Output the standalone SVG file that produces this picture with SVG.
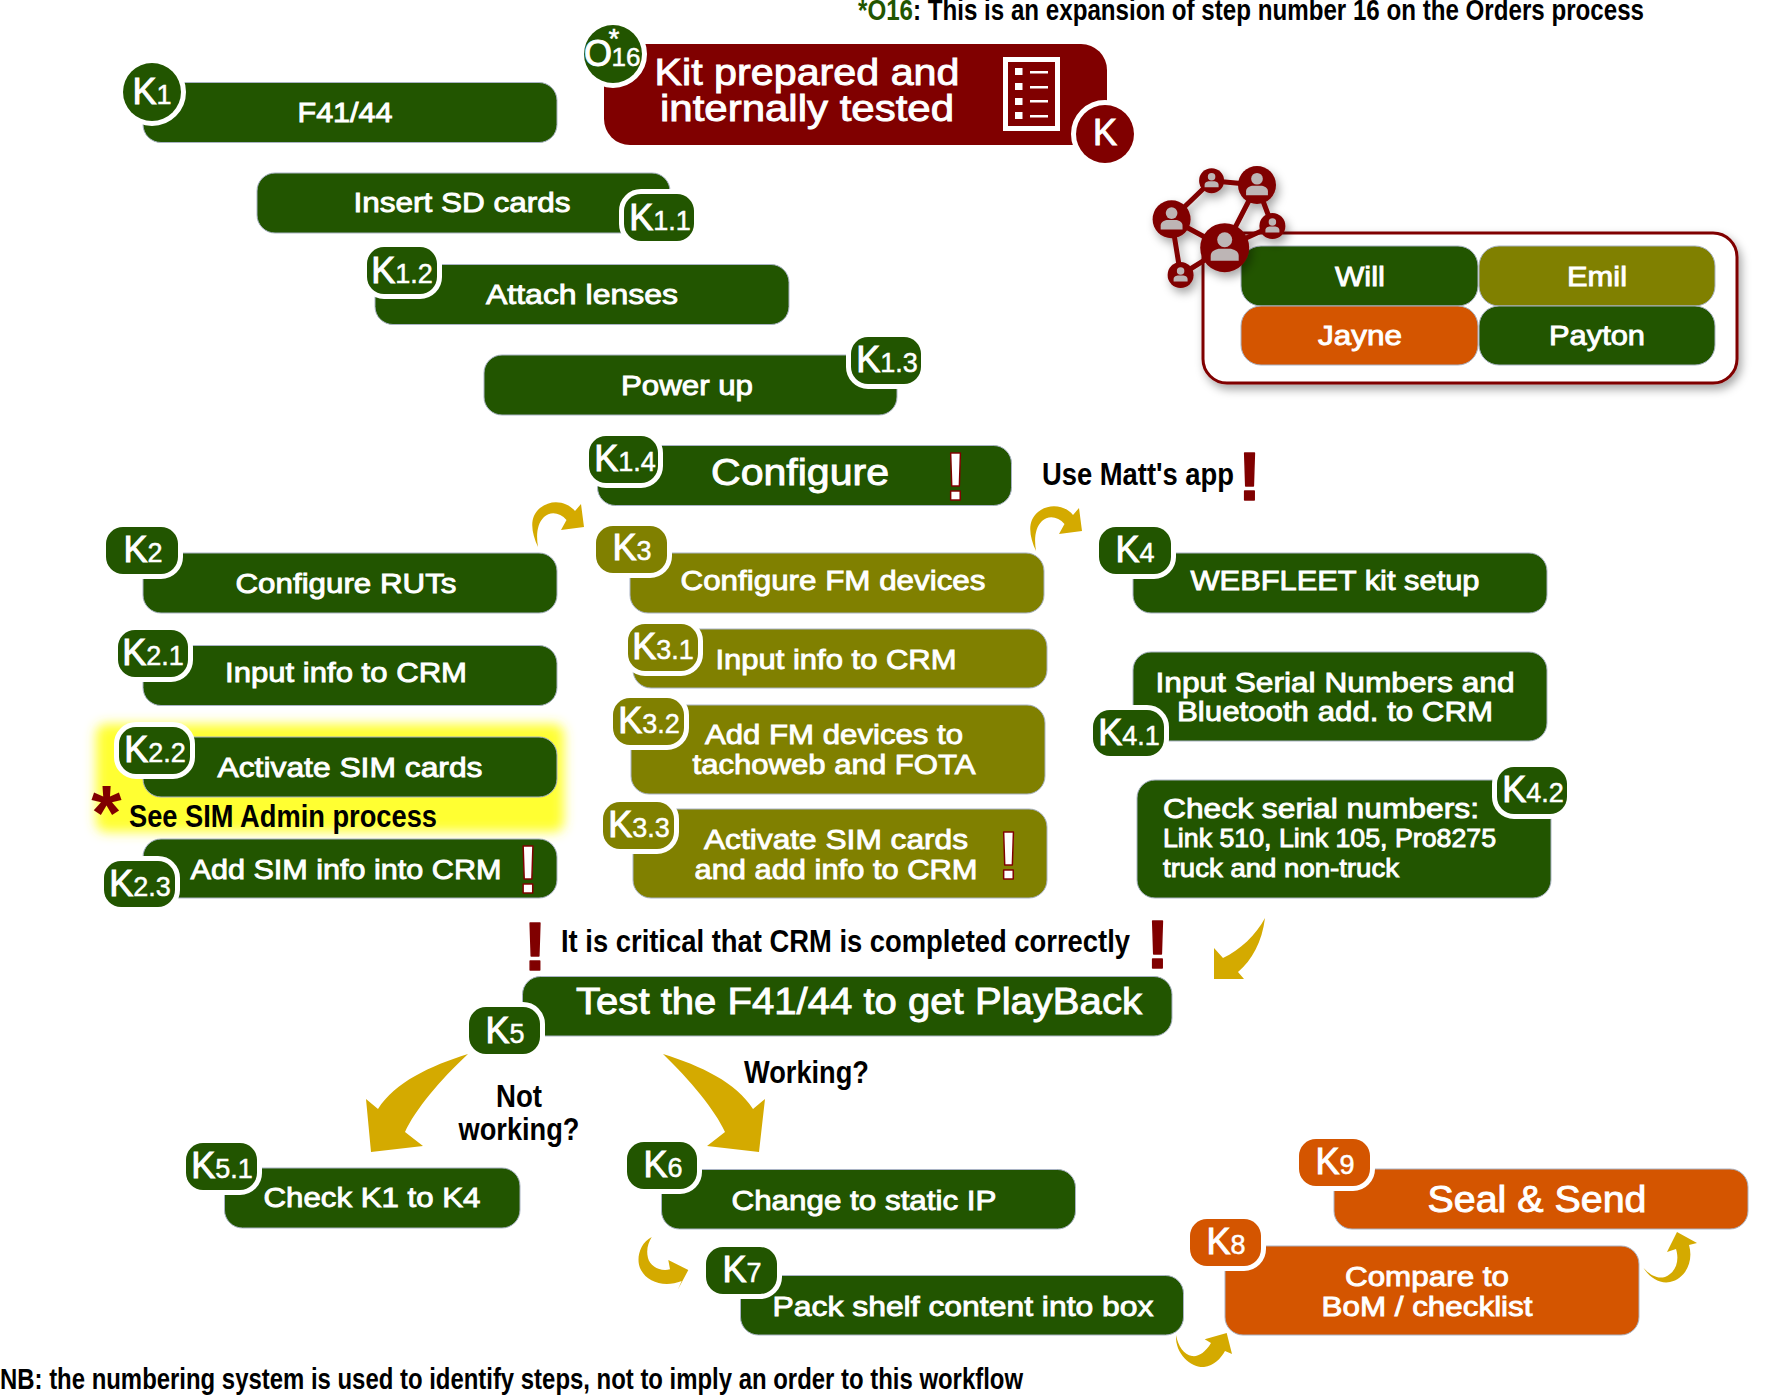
<svg xmlns="http://www.w3.org/2000/svg" width="1789" height="1396" viewBox="0 0 1789 1396">
<style>
text{font-family:"Liberation Sans",Arial,sans-serif}
.g{fill:#225500}.o{fill:#808000}.r{fill:#d45500}.m{fill:#800000}
.box{stroke:#a9b3c4;stroke-width:1}
.bd{stroke:#fff;stroke-width:10;paint-order:stroke}
.t{fill:#fff;stroke:#fff;stroke-width:.9;font-size:28px;text-anchor:middle;transform:translateY(-1px)}
.l{text-anchor:start}
.b{font-size:36px}
.sm{font-size:25px}
.k{fill:#fff;stroke:#fff;stroke-width:1;font-size:36px;text-anchor:middle;transform:translateY(-1px)}
.k tspan{font-size:27px;stroke-width:.5}
.n{fill:#000;font-weight:bold;font-size:32px;transform:translateY(-1px)}
.c{text-anchor:middle}
.arrow{fill:#d4aa00}
.bang{font-weight:bold;font-size:68px;text-anchor:middle;fill:#fff;stroke:#800000;stroke-width:1.5;stroke-linejoin:round}
.bang.dark{fill:#800000}
.edge{stroke:#800000;stroke-width:5}
.pp{fill:#bdb5b5}
</style>
<defs>
<filter id="blur" x="-10%" y="-30%" width="120%" height="160%"><feGaussianBlur stdDeviation="6"/></filter>
<filter id="shadow" x="-10%" y="-10%" width="120%" height="125%"><feDropShadow dx="3" dy="5" stdDeviation="5" flood-color="#000" flood-opacity=".35"/></filter>
<g id="person"><circle cx="0" cy="-8" r="7.500"/><path d="M-14,13V8C-14,3-8,1-5,1H5C8,1 14,3 14,8V13Z"/></g>
</defs>
<rect width="1789" height="1396" fill="#fff"/>

<rect id="highlight" x="96" y="724" width="468" height="108" rx="10" fill="#ffff33" filter="url(#blur)"/>

<g id="connectors">
<path class="arrow" d="M538,547C531,532 529,517 540,508C552,498 568,502 575,511L581,504L584,527L561,530L566.500,520C560,512 550,511 544,517C537,524 536,535 538,547Z"/>
<path class="arrow" d="M1036,551C1029,536 1027,521 1038,512C1050,502 1066,506 1073,515L1079,508L1082,531L1059,534L1064.500,524C1058,516 1048,515 1042,521C1035,528 1034,539 1036,551Z"/>
<path class="arrow" d="M1265,918C1262,942 1252,960 1238,972L1244,979H1214V948L1223,958C1240,950 1256,935 1265,918Z"/>
<path class="arrow" d="M468,1054C430,1066 395,1082 378,1109L366,1099L371,1152L423,1146L405,1132C415,1110 440,1080 468,1054Z"/>
<path class="arrow" d="M663,1054C701,1066 736,1082 753,1109L765,1099L759,1152L707,1146L725,1132C715,1110 690,1080 663,1054Z"/>
<path class="arrow" d="M651.700,1237C640,1243 636,1258 640,1268C646,1282 664,1288 681.700,1281L677.700,1290L688.300,1270L668.300,1260L670,1269.300C660,1272 650,1266 648,1258C646,1250 648,1243 651.700,1237Z"/>
<path class="arrow" d="M1176,1335C1175,1355 1192,1368 1204,1367C1214,1366 1221,1358 1225,1351L1232,1354L1226.700,1333L1204.700,1339.300L1211,1343C1205,1353 1198,1357 1192,1356C1184,1355 1178,1346 1176,1335Z"/>
<path class="arrow" d="M1643.500,1268C1650,1278 1660,1284 1670,1282C1685,1279 1694,1262 1689,1245L1697,1243L1677,1232L1667,1252L1676,1249C1680,1262 1675,1273 1665,1277C1657,1279 1650,1275 1643.500,1268Z"/>
</g>

<text id="note-top" class="n" x="858" y="21" style="font-size:29px" textLength="786" lengthAdjust="spacingAndGlyphs"><tspan class="g">*O16</tspan>: This is an expansion of step number 16 on the Orders process</text>

<g id="kit">
<rect class="m" x="604" y="44" width="503" height="101" rx="26"/>
<text class="t b" x="807" y="86" textLength="305" lengthAdjust="spacingAndGlyphs">Kit prepared and</text>
<text class="t b" x="807" y="122" textLength="294" lengthAdjust="spacingAndGlyphs">internally tested</text>
<g id="checklist" fill="#fff">
<rect x="1005.500" y="59.500" width="52" height="69" fill="none" stroke="#fff" stroke-width="5"/>
<rect x="1015" y="68" width="7.500" height="7"/><rect x="1015" y="83" width="7.500" height="7"/><rect x="1015" y="98" width="7.500" height="7"/><rect x="1015" y="112" width="7.500" height="7"/>
<rect x="1030" y="71" width="18" height="2.500"/><rect x="1030" y="86" width="18" height="2.500"/><rect x="1030" y="100" width="18" height="2.500"/><rect x="1030" y="115" width="18" height="2.500"/>
</g>
<circle class="m bd" cx="1105" cy="134" r="29"/>
<text class="k" x="1105" y="146">K</text>
</g>
<g id="o16">
<circle class="g bd" cx="613" cy="54" r="29"/>
<text class="k" x="598" y="67">O</text>
<text class="k" x="626" y="67" style="font-size:26px;stroke-width:.5">16</text>
<text class="k" x="614" y="49" style="font-size:28px;stroke-width:.5">*</text>
</g>

<g id="k1"><rect class="g box" x="143" y="82.500" width="414" height="60" rx="18"/><text class="t" x="345" y="123" textLength="95" lengthAdjust="spacingAndGlyphs">F41/44</text><circle class="g bd" cx="152" cy="92" r="29"/><text class="k" x="152" y="105">K<tspan>1</tspan></text></g>

<g id="k1-1"><rect class="g box" x="257" y="173" width="413" height="60" rx="18"/><text class="t" x="462" y="213" textLength="217" lengthAdjust="spacingAndGlyphs">Insert SD cards</text><rect class="g bd" x="624" y="194" width="70" height="47" rx="17"/><text class="k" x="660" y="231">K<tspan>1.1</tspan></text></g>

<g id="k1-2"><rect class="g box" x="375" y="264.500" width="414" height="60" rx="18"/><text class="t" x="582" y="305" textLength="192" lengthAdjust="spacingAndGlyphs">Attach lenses</text><rect class="g bd" x="367" y="247" width="70" height="47" rx="17"/><text class="k" x="402" y="284">K<tspan>1.2</tspan></text></g>

<g id="k1-3"><rect class="g box" x="484" y="355" width="413" height="60" rx="18"/><text class="t" x="687" y="396" textLength="132" lengthAdjust="spacingAndGlyphs">Power up</text><rect class="g bd" x="851" y="337" width="70" height="47" rx="17"/><text class="k" x="887" y="373">K<tspan>1.3</tspan></text></g>

<g id="k1-4"><rect class="g box" x="597.500" y="445.500" width="414" height="60" rx="18"/><text class="t b" x="800" y="486" textLength="178" lengthAdjust="spacingAndGlyphs">Configure</text><text class="bang" x="955.500" y="500">!</text><rect class="g bd" x="589" y="436" width="69" height="47" rx="17"/><text class="k" x="625" y="472">K<tspan>1.4</tspan></text></g>

<text id="note-matt" class="n" x="1042" y="486" textLength="192" lengthAdjust="spacingAndGlyphs">Use Matt's app</text>
<text class="bang dark" x="1249.500" y="500">!</text>

<g id="k2"><rect class="g box" x="143" y="553" width="414" height="60" rx="18"/><text class="t" x="346" y="594" textLength="221" lengthAdjust="spacingAndGlyphs">Configure RUTs</text><rect class="g bd" x="106" y="527" width="72" height="47" rx="17"/><text class="k" x="143" y="563">K<tspan>2</tspan></text></g>

<g id="k2-1"><rect class="g box" x="143" y="645.500" width="414" height="60" rx="18"/><text class="t" x="346" y="683" textLength="242" lengthAdjust="spacingAndGlyphs">Input info to CRM</text><rect class="g bd" x="118" y="630" width="70" height="47" rx="17"/><text class="k" x="153" y="666">K<tspan>2.1</tspan></text></g>

<g id="k2-2"><rect class="g box" x="143" y="737" width="414" height="60" rx="18"/><text class="t" x="350" y="778" textLength="265" lengthAdjust="spacingAndGlyphs">Activate SIM cards</text><rect class="g bd" x="119" y="727" width="71" height="47" rx="17"/><text class="k" x="155" y="763">K<tspan>2.2</tspan></text></g>

<text id="star" class="bang dark" x="106.500" y="840" style="font-size:78px;stroke:none">*</text>
<text id="note-sim" class="n" x="129" y="828" textLength="308" lengthAdjust="spacingAndGlyphs">See SIM Admin process</text>

<g id="k2-3"><rect class="g box" x="143" y="839" width="414" height="59" rx="18"/><text class="t" x="346" y="880" textLength="311" lengthAdjust="spacingAndGlyphs">Add SIM info into CRM</text><text class="bang" x="528" y="893">!</text><rect class="g bd" x="104" y="861" width="71" height="46" rx="17"/><text class="k" x="140" y="897">K<tspan>2.3</tspan></text></g>

<g id="k3"><rect class="o box" x="630" y="553" width="414" height="60" rx="18"/><text class="t" x="833" y="591" textLength="305" lengthAdjust="spacingAndGlyphs">Configure FM devices</text><rect class="o bd" x="596" y="526" width="71" height="47" rx="17"/><text class="k" x="632" y="561">K<tspan>3</tspan></text></g>

<g id="k3-1"><rect class="o box" x="633" y="629" width="414" height="59" rx="18"/><text class="t" x="836" y="670" textLength="241" lengthAdjust="spacingAndGlyphs">Input info to CRM</text><rect class="o bd" x="628" y="624" width="70" height="47" rx="17"/><text class="k" x="663" y="660">K<tspan>3.1</tspan></text></g>

<g id="k3-2"><rect class="o box" x="631" y="705" width="414" height="89" rx="18"/><text class="t" x="834" y="745" textLength="258" lengthAdjust="spacingAndGlyphs">Add FM devices to</text><text class="t" x="834" y="775" textLength="283" lengthAdjust="spacingAndGlyphs">tachoweb and FOTA</text><rect class="o bd" x="613" y="698" width="71" height="47" rx="17"/><text class="k" x="649" y="734">K<tspan>3.2</tspan></text></g>

<g id="k3-3"><rect class="o box" x="633" y="809" width="414" height="89" rx="18"/><text class="t" x="836" y="850" textLength="264" lengthAdjust="spacingAndGlyphs">Activate SIM cards</text><text class="t" x="836" y="880" textLength="283" lengthAdjust="spacingAndGlyphs">and add info to CRM</text><text class="bang" x="1008.500" y="879">!</text><rect class="o bd" x="603" y="802" width="71" height="47" rx="17"/><text class="k" x="639" y="838">K<tspan>3.3</tspan></text></g>

<g id="k4"><rect class="g box" x="1133" y="553" width="414" height="60" rx="18"/><text class="t" x="1335" y="591" textLength="289" lengthAdjust="spacingAndGlyphs">WEBFLEET kit setup</text><rect class="g bd" x="1099" y="527" width="72" height="47" rx="17"/><text class="k" x="1135" y="563">K<tspan>4</tspan></text></g>

<g id="k4-1"><rect class="g box" x="1133" y="652" width="414" height="89" rx="18"/><text class="t" x="1335" y="693" textLength="359" lengthAdjust="spacingAndGlyphs">Input Serial Numbers and</text><text class="t" x="1335" y="722" textLength="316" lengthAdjust="spacingAndGlyphs">Bluetooth add. to CRM</text><rect class="g bd" x="1093" y="710" width="71" height="46" rx="17"/><text class="k" x="1129" y="746">K<tspan>4.1</tspan></text></g>

<g id="k4-2"><rect class="g box" x="1137" y="780" width="414" height="118" rx="18"/><text class="t l" x="1163" y="819" textLength="316" lengthAdjust="spacingAndGlyphs">Check serial numbers:</text><text class="t l sm" x="1163" y="848" textLength="333" lengthAdjust="spacingAndGlyphs">Link 510, Link 105, Pro8275</text><text class="t l sm" x="1163" y="878" textLength="236" lengthAdjust="spacingAndGlyphs">truck and non-truck</text><rect class="g bd" x="1497" y="767" width="70" height="47" rx="17"/><text class="k" x="1533" y="803">K<tspan>4.2</tspan></text></g>

<text class="bang dark" x="535" y="970">!</text>
<text id="note-crm" class="n" x="561" y="953" textLength="569" lengthAdjust="spacingAndGlyphs">It is critical that CRM is completed correctly</text>
<text class="bang dark" x="1157.700" y="968">!</text>

<g id="k5"><rect class="g box" x="522.500" y="976.500" width="649.500" height="59.500" rx="18"/><text class="t b" x="859" y="1015" textLength="566" lengthAdjust="spacingAndGlyphs">Test the F41/44 to get PlayBack</text><rect class="g bd" x="469" y="1007" width="71" height="47" rx="17"/><text class="k" x="505" y="1044">K<tspan>5</tspan></text></g>

<text class="n c" x="519" y="1108" textLength="46" lengthAdjust="spacingAndGlyphs">Not</text>
<text class="n c" x="519" y="1141" textLength="121" lengthAdjust="spacingAndGlyphs">working?</text>
<text class="n" x="744" y="1084" textLength="125" lengthAdjust="spacingAndGlyphs">Working?</text>

<g id="k5-1"><rect class="g box" x="224.500" y="1168" width="295.500" height="60" rx="18"/><text class="t" x="372" y="1208" textLength="217" lengthAdjust="spacingAndGlyphs">Check K1 to K4</text><rect class="g bd" x="186" y="1143" width="71" height="47" rx="17"/><text class="k" x="222" y="1179">K<tspan>5.1</tspan></text></g>

<g id="k6"><rect class="g box" x="661.500" y="1169.500" width="414" height="59.500" rx="18"/><text class="t" x="864" y="1211" textLength="265" lengthAdjust="spacingAndGlyphs">Change to static IP</text><rect class="g bd" x="627" y="1142" width="70" height="47" rx="17"/><text class="k" x="663" y="1178">K<tspan>6</tspan></text></g>

<g id="k7"><rect class="g box" x="740.500" y="1275.500" width="443" height="59.500" rx="18"/><text class="t" x="963" y="1317" textLength="381" lengthAdjust="spacingAndGlyphs">Pack shelf content into box</text><rect class="g bd" x="706" y="1247" width="71" height="47" rx="17"/><text class="k" x="742" y="1283">K<tspan>7</tspan></text></g>

<g id="k8"><rect class="r box" x="1225" y="1246" width="414" height="89" rx="18"/><text class="t" x="1427" y="1287" textLength="164" lengthAdjust="spacingAndGlyphs">Compare to</text><text class="t" x="1427" y="1317" textLength="211" lengthAdjust="spacingAndGlyphs">BoM / checklist</text><rect class="r bd" x="1190" y="1219" width="71" height="47" rx="17"/><text class="k" x="1226" y="1255">K<tspan>8</tspan></text></g>

<g id="k9"><rect class="r box" x="1334" y="1169" width="414" height="60" rx="18"/><text class="t b" x="1537" y="1213" textLength="219" lengthAdjust="spacingAndGlyphs">Seal &amp; Send</text><rect class="r bd" x="1299" y="1139" width="71" height="47" rx="17"/><text class="k" x="1335" y="1175">K<tspan>9</tspan></text></g>

<g id="team">
<rect x="1203" y="233" width="534" height="150" rx="24" fill="#fff" stroke="#800000" stroke-width="3" filter="url(#shadow)"/>
<g id="will"><rect class="g box" x="1241" y="246" width="237" height="60" rx="20"/><text class="t" x="1360" y="287" textLength="50" lengthAdjust="spacingAndGlyphs">Will</text></g>
<g id="emil"><rect class="o box" x="1479" y="246" width="236" height="60" rx="20"/><text class="t" x="1597" y="287" textLength="60" lengthAdjust="spacingAndGlyphs">Emil</text></g>
<g id="jayne"><rect class="r box" x="1241" y="306" width="237" height="59" rx="20"/><text class="t" x="1360" y="346" textLength="84" lengthAdjust="spacingAndGlyphs">Jayne</text></g>
<g id="payton"><rect class="g box" x="1479" y="306" width="236" height="59" rx="20"/><text class="t" x="1597" y="346" textLength="96" lengthAdjust="spacingAndGlyphs">Payton</text></g>
</g>

<g id="network" filter="url(#shadow)">
<g class="edge">
<path d="M1211.600,180.700L1171.600,219.300M1211.600,180.700L1257,185M1257,185L1224.700,247.700M1257,185L1272.400,226M1171.600,219.300L1224.700,247.700M1171.600,219.300L1180.600,275M1180.600,275L1224.700,247.700M1272.400,226L1224.700,247.700"/>
</g>
<g class="m">
<circle cx="1224.700" cy="247.700" r="24.500"/><circle cx="1171.600" cy="219.300" r="19"/><circle cx="1257" cy="185" r="19"/><circle cx="1211.600" cy="180.700" r="12.500"/><circle cx="1272.400" cy="226" r="13"/><circle cx="1180.600" cy="275" r="13"/>
</g>
<g class="pp">
<use href="#person" transform="translate(1224.700,247.700)"/>
<use href="#person" transform="translate(1171.600,219.300) scale(.78)"/>
<use href="#person" transform="translate(1257,185) scale(.78)"/>
<use href="#person" transform="translate(1211.600,180.700) scale(.5)"/>
<use href="#person" transform="translate(1272.400,226) scale(.5)"/>
<use href="#person" transform="translate(1180.600,275) scale(.5)"/>
</g>
</g>

<text id="note-nb" class="n" x="0" y="1390" style="font-size:30px" textLength="1023" lengthAdjust="spacingAndGlyphs">NB: the numbering system is used to identify steps, not to imply an order to this workflow</text>
</svg>
